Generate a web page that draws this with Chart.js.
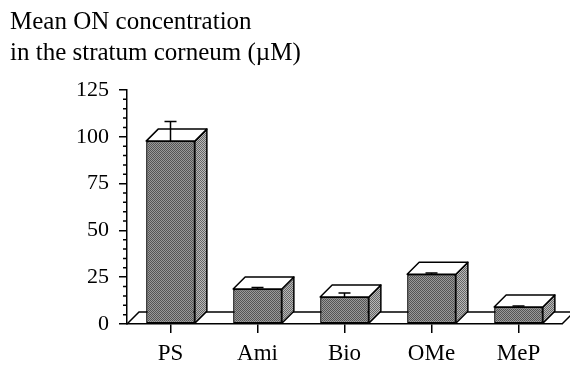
<!DOCTYPE html>
<html>
<head>
<meta charset="utf-8">
<script src="https://cdn.jsdelivr.net/npm/chart.js@4/dist/chart.umd.min.js"></script>
<style>
  html, body { margin: 0; padding: 0; background: #fff; }
  #wrap { width: 570px; height: 368px; position: relative; }
</style>
</head>
<body>
<div id="wrap"><canvas id="chart"></canvas></div>
<script>
// Donnees
const categories = ['PS', 'Ami', 'Bio', 'OMe', 'MeP'];
const means = [97.7, 18.7, 14.4, 26.6, 9.1];
const errors = [10.5, 0.8, 2.2, 0.6, 0.5];
const yTicks = [0, 25, 50, 75, 100, 125];
const titleLines = ['Mean ON concentration', 'in the stratum corneum (\u00b5M)'];

const SERIF = "'Liberation Serif', 'Times New Roman', serif";
const DEPTH_X = 12;
const DEPTH_Y = 12;

// Texture pointillee des faces
function makePattern(c1, c2) {
    const tile = document.createElement('canvas');
    tile.width = 2;
    tile.height = 2;
    const t = tile.getContext('2d');
    t.fillStyle = c1;
    t.fillRect(0, 0, 2, 2);
    t.fillStyle = c2;
    t.fillRect(0, 0, 1, 1);
    t.fillRect(1, 1, 1, 1);
    return t.createPattern(tile, 'repeat');
}
const frontPattern = makePattern('#9a9a9a', '#555555');
const sidePattern = makePattern('#b8b8b8', '#666666');

// Plancher, faces 3D, barres d'erreur et petites graduations
const bars3d = {
    id: 'bars3d',
    beforeDatasetsDraw(chart) {
        const { ctx, chartArea } = chart;
        const b = chartArea.bottom;
        ctx.save();
        ctx.strokeStyle = '#000';
        ctx.lineWidth = 1.5;
        ctx.beginPath();
        ctx.moveTo(chartArea.left, b);
        ctx.lineTo(chartArea.left + DEPTH_X, b - DEPTH_Y);
        ctx.lineTo(chart.width + 5, b - DEPTH_Y);
        ctx.moveTo(chartArea.right, b);
        ctx.lineTo(chartArea.right + DEPTH_X, b - DEPTH_Y);
        ctx.stroke();
        ctx.restore();
    },
    afterDatasetsDraw(chart) {
        const { ctx } = chart;
        const yScale = chart.scales.y;
        const meta = chart.getDatasetMeta(0);
        ctx.save();
        ctx.strokeStyle = '#000';
        ctx.lineWidth = 1.5;
        ctx.lineJoin = 'round';
        meta.data.forEach((bar, i) => {
            const { x, y, base, width } = bar.getProps(['x', 'y', 'base', 'width'], true);
            const L = x - width / 2;
            const R = x + width / 2;
            // face laterale
            ctx.beginPath();
            ctx.moveTo(R, y);
            ctx.lineTo(R + DEPTH_X, y - DEPTH_Y);
            ctx.lineTo(R + DEPTH_X, base - DEPTH_Y);
            ctx.lineTo(R, base);
            ctx.closePath();
            ctx.fillStyle = sidePattern;
            ctx.fill();
            ctx.stroke();
            // face superieure
            ctx.beginPath();
            ctx.moveTo(L, y);
            ctx.lineTo(L + DEPTH_X, y - DEPTH_Y);
            ctx.lineTo(R + DEPTH_X, y - DEPTH_Y);
            ctx.lineTo(R, y);
            ctx.closePath();
            ctx.fillStyle = '#fff';
            ctx.fill();
            ctx.stroke();
            // barre d'erreur
            const yErr = yScale.getPixelForValue(means[i] + errors[i]);
            ctx.beginPath();
            ctx.moveTo(x, y);
            ctx.lineTo(x, yErr);
            ctx.moveTo(x - 6, yErr);
            ctx.lineTo(x + 6, yErr);
            ctx.stroke();
        });
        // petites graduations
        const left = chart.chartArea.left;
        ctx.beginPath();
        for (let v = 5; v < 125; v += 5) {
            if (v % 25 === 0) continue;
            const py = yScale.getPixelForValue(v);
            ctx.moveTo(left - 4, py);
            ctx.lineTo(left, py);
        }
        ctx.stroke();
        ctx.restore();
    }
};

new Chart(document.getElementById('chart'), {
    type: 'bar',
    data: {
        labels: categories,
        datasets: [{
            data: means,
            backgroundColor: frontPattern,
            borderColor: '#000',
            borderWidth: 1.5,
            borderSkipped: false,
            categoryPercentage: 1,
            barPercentage: 0.56
        }]
    },
    options: {
        responsive: true,
        maintainAspectRatio: false,
        animation: false,
        layout: { padding: { left: 10, top: 0, right: 8, bottom: 0 } },
        plugins: {
            legend: { display: false },
            tooltip: { enabled: false },
            title: {
                display: true,
                text: titleLines,
                align: 'start',
                color: '#000',
                font: { family: SERIF, size: 25, weight: 'normal', lineHeight: 1.24 },
                padding: { top: 7, bottom: 21 }
            }
        },
        scales: {
            x: {
                afterFit(scale) { scale.height = 44; },
                grid: { display: true, drawOnChartArea: false, offset: false, tickLength: 9, color: '#000', lineWidth: 1.5 },
                border: { display: true, color: '#000', width: 1.5 },
                ticks: { color: '#000', padding: 7, font: { family: SERIF, size: 23 } }
            },
            y: {
                min: 0,
                max: 125,
                afterFit(scale) { scale.width = 117; },
                afterBuildTicks(scale) { scale.ticks = yTicks.map(v => ({ value: v })); },
                grid: { drawOnChartArea: false, tickLength: 8, color: '#000', lineWidth: 1.5 },
                border: { display: true, color: '#000', width: 1.5 },
                ticks: { color: '#000', padding: 10, font: { family: SERIF, size: 22 } }
            }
        }
    },
    plugins: [bars3d]
});
</script>
</body>
</html>
